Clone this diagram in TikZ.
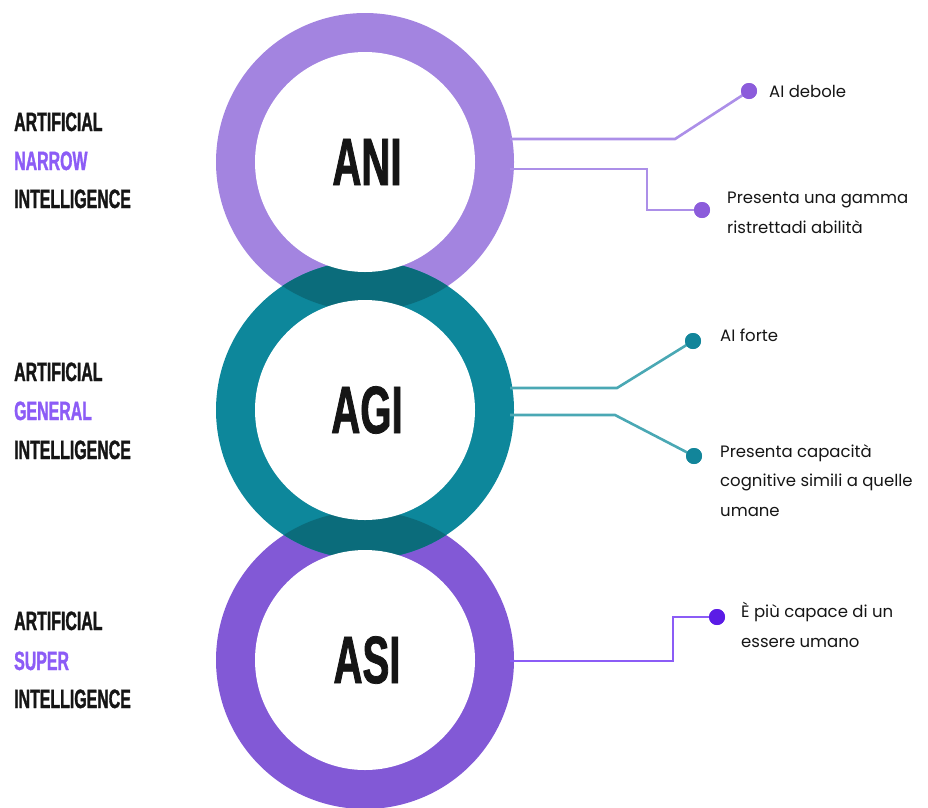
\documentclass[tikz,border=0pt]{standalone}
\usepackage{fontspec}
\setmainfont{Poppins}
\newfontfamily\condfont{Liberation Sans}[FakeStretch=0.6,FakeBold=1.2]

\definecolor{aniring}{HTML}{A384E0}
\definecolor{agiring}{HTML}{0D879B}
\definecolor{asiring}{HTML}{8259D6}
\definecolor{overlap}{HTML}{0B6C7B}
\definecolor{accent}{HTML}{8C5CF6}
\definecolor{aniline}{HTML}{AC8FE8}
\definecolor{anidot}{HTML}{8C5CDB}
\definecolor{agiline}{HTML}{4AA8B4}
\definecolor{agidot}{HTML}{12859A}
\definecolor{asiline}{HTML}{8B5CF6}
\definecolor{asidot}{HTML}{5B1CE6}
\definecolor{ink}{HTML}{151515}

\tikzset{
  sidelabel/.style={anchor=base west, inner sep=0pt, text=ink,
    font=\condfont\bfseries\fontsize{26.5}{30}\selectfont},
  ringlabel/.style={anchor=center, inner sep=0pt, text=ink,
    font=\condfont\bfseries\fontsize{67}{70}\selectfont},
  % multi-line notes are placed by the baseline of their last line
  note/.style={anchor=base west, inner sep=0pt, align=left, text=ink,
    font=\fontsize{16.5}{29.5}\selectfont},
  dot/.style={circle, inner sep=0pt, minimum size=16pt},
  link/.style={line width=2.6pt, line join=miter}
}

\begin{document}
\begin{tikzpicture}[x=1pt,y=-1pt]
\useasboundingbox (0,0) rectangle (928,807);

% ring centres
\coordinate (cani) at (365,162);
\coordinate (cagi) at (365,410);
\coordinate (casi) at (365,660);

% outer discs of the three rings
\fill[aniring] (cani) circle (149pt);
\fill[asiring] (casi) circle (149pt);
\fill[agiring] (cagi) circle (149pt);

% darker band where two rings overlap
\begin{scope}
  \clip (cani) circle (149pt);
  \fill[overlap] (cagi) circle (149pt);
\end{scope}
\begin{scope}
  \clip (casi) circle (149pt);
  \fill[overlap] (cagi) circle (149pt);
\end{scope}

% white centres
\fill[white] (cani) circle (110pt);
\fill[white] (cagi) circle (110pt);
\fill[white] (casi) circle (110pt);

% acronyms
\node[ringlabel] (ani) at (367,162) {ANI};
\node[ringlabel] (agi) at (367,410) {AGI};
\node[ringlabel] (asi) at (367,660) {ASI};

% labels on the left
\node[sidelabel] (l1a) at (14,131) {ARTIFICIAL};
\node[sidelabel, text=accent] (l1b) at (14,170) {NARROW};
\node[sidelabel] (l1c) at (14,208) {INTELLIGENCE};

\node[sidelabel] (l2a) at (14,381) {ARTIFICIAL};
\node[sidelabel, text=accent] (l2b) at (14,420) {GENERAL};
\node[sidelabel] (l2c) at (14,459) {INTELLIGENCE};

\node[sidelabel] (l3a) at (14,630) {ARTIFICIAL};
\node[sidelabel, text=accent] (l3b) at (14,670) {SUPER};
\node[sidelabel] (l3c) at (14,708) {INTELLIGENCE};

% connector start points on the rings
\coordinate (aniE1) at (510,139);
\coordinate (aniE2) at (510,169);
\coordinate (agiE1) at (510,388);
\coordinate (agiE2) at (510,415);
\coordinate (asiE)  at (510,661);

% end dots
\node[dot, fill=anidot] (anidot1) at (749,91) {};
\node[dot, fill=anidot] (anidot2) at (702,210) {};
\node[dot, fill=agidot] (agidot1) at (693,341) {};
\node[dot, fill=agidot] (agidot2) at (694,456) {};
\node[dot, fill=asidot] (asidot)  at (717,617) {};

% connectors
\draw[link, aniline] (aniE1) -- ++(165,0) -- (anidot1.center);
\draw[link, aniline] (aniE2) -- ++(137,0) |- (anidot2.center);
\draw[link, agiline] (agiE1) -- ++(107,0) -- (agidot1.center);
\draw[link, agiline] (agiE2) -- ++(105,0) -- (agidot2.center);
\draw[link, asiline] (asiE) -- ++(163,0) |- (asidot.center);

% redraw the dots over the line ends
\fill[anidot] (anidot1) circle (8pt);
\fill[anidot] (anidot2) circle (8pt);
\fill[agidot] (agidot1) circle (8pt);
\fill[agidot] (agidot2) circle (8pt);
\fill[asidot] (asidot) circle (8pt);

% notes on the right
\node[note] (n1) at (769,97) {AI debole};
\node[note] (n2) at (727,233) {Presenta una gamma\\ristrettadi abilità};
\node[note] (n3) at (720,341) {AI forte};
\node[note] (n4) at (720,516) {Presenta capacità\\cognitive simili a quelle\\umane};
\node[note] (n5) at (741,647) {È più capace di un\\essere umano};
\end{tikzpicture}
\end{document}
